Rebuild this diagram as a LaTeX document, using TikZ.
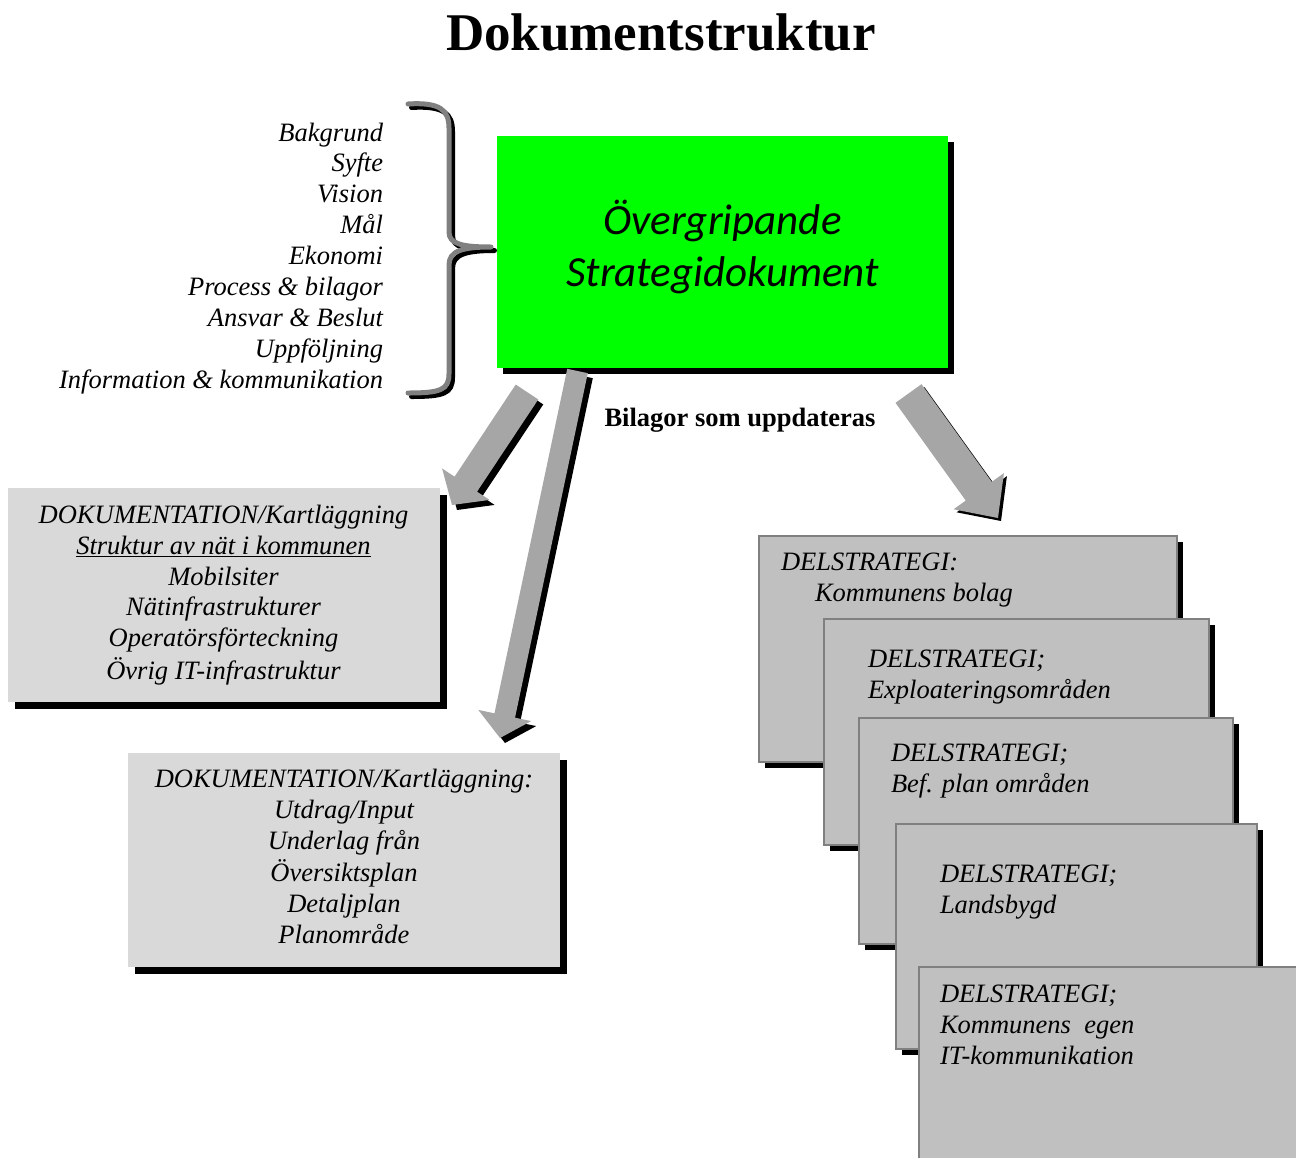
\documentclass[tikz,border=0pt]{standalone}
\usepackage{fontspec}
\setmainfont{Liberation Serif}
\newfontfamily\calfont{Carlito}
\usetikzlibrary{calc,shadows}
\definecolor{mgreen}{HTML}{00FF00}
\definecolor{docgray}{HTML}{D9D9D9}
\definecolor{delgray}{HTML}{C0C0C0}
\definecolor{bordergray}{HTML}{808080}
\definecolor{arrowgray}{HTML}{A6A6A6}
\newcommand\blockarrow[7]{% #1 name, #2 tail, #3 tip, #4 half shaft, #5 half head, #6 head length, #7 shadow
  \coordinate (#1-h) at ($(#3)!#6!(#2)$);
  \fill[black, transform canvas={shift={(#7,#7)}}]
    ($(#2)!#4!90:(#3)$) -- ($(#1-h)!#4!90:(#3)$) -- ($(#1-h)!#5!90:(#3)$) -- (#3)
    -- ($(#1-h)!#5!-90:(#3)$) -- ($(#1-h)!#4!-90:(#3)$) -- ($(#2)!#4!-90:(#3)$) -- cycle;
  \fill[arrowgray]
    ($(#2)!#4!90:(#3)$) -- ($(#1-h)!#4!90:(#3)$) -- ($(#1-h)!#5!90:(#3)$) -- (#3)
    -- ($(#1-h)!#5!-90:(#3)$) -- ($(#1-h)!#4!-90:(#3)$) -- ($(#2)!#4!-90:(#3)$) -- cycle;
}
\tikzset{
  every node/.style={inner sep=0pt, outer sep=0pt},
  txt/.style={font=\fontsize{26.5}{30.9}\selectfont\itshape},
  shadowed/.style={drop shadow={opacity=1, fill=black, shadow xshift=#1, shadow yshift=-#1}},
  mainbox/.style={fill=mgreen, shadowed=6pt},
  docbox/.style={fill=docgray, shadowed=7pt, txt, align=center, minimum width=432pt, minimum height=214pt},
  delbox/.style={fill=delgray, draw=bordergray, line width=2pt},
  bracepath/.style={line width=5pt, line cap=round, line join=round},
}
\begin{document}
\begin{tikzpicture}[x=1pt,y=-1pt]
\useasboundingbox (0,0) rectangle (1296,1157);
\clip (0,0) rectangle (1296,1157);

% title
\node[font=\fontsize{53}{60}\selectfont\bfseries] (title) at (661,32) {Dokumentstruktur};

% main box
\node[mainbox, minimum width=451pt, minimum height=232pt] (main) at (722.5,252) {};
\node[font=\fontsize{43}{52}\selectfont\calfont\itshape, align=center] (maintext) at (722.5,250)
  {\strut Övergripande\\\strut Strategidokument};

% block arrows
\coordinate (a1t) at (527,392);
\coordinate (a1p) at (452,505);
\coordinate (a2t) at (577.5,371);
\coordinate (a2p) at (500,738);
\coordinate (a3t) at (908.5,393.5);
\coordinate (a3p) at (998,518);
\blockarrow{a1}{a1t}{a1p}{13.5pt}{28.5pt}{25pt}{5}
\blockarrow{a2}{a2t}{a2p}{10.5pt}{27pt}{23pt}{5}
\blockarrow{a3}{a3t}{a3p}{16pt}{31pt}{33pt}{3}

% brace
\foreach \off/\col in {3.5/black, 0/bordergray}{
  \draw[bracepath, draw=\col, shift={(\off,\off)}]
    (408,104) .. controls (440,102) and (449,110) .. (449,128) -- (449,232)
    .. controls (449,244) and (462,247) .. (491,247)
    .. controls (462,247) and (449,251) .. (449,265) -- (449,374)
    .. controls (449,390) and (440,393) .. (408,393);
}

% list
\node[txt, align=right, anchor=east] (list) at (383,258.5)
  {\strut Bakgrund\\\strut Syfte\\\strut Vision\\\strut Mål\\\strut Ekonomi\\\strut Process \& bilagor\\\strut Ansvar \& Beslut\\\strut Uppföljning\\\strut Information \& kommunikation};

\node[font=\fontsize{26.5}{30.9}\selectfont\bfseries] (bilagor) at (740,420) {Bilagor som uppdateras};

% documentation boxes
\node[docbox] (doc1) at (223.5,595)
  {\strut DOKUMENTATION/Kartläggning\\\strut\underline{Struktur av nät i kommunen}\\\strut Mobilsiter\\\strut Nätinfrastrukturer\\\strut Operatörsförteckning\\\strut Övrig IT-infrastruktur};
\node[docbox] (doc2) at (344,859.5)
  {\strut DOKUMENTATION/Kartläggning:\\\strut Utdrag/Input\\\strut Underlag från\\\strut Översiktsplan\\\strut Detaljplan\\\strut Planområde};

% delstrategi boxes
\node[delbox, shadowed=6pt, minimum width=418pt, minimum height=226pt] (dA) at (968,649) {};
\node[txt, align=left, anchor=west] (tA) at (781,579.5) {\strut DELSTRATEGI:\\\strut\hspace*{34pt}Kommunens bolag};
\node[delbox, shadowed=6pt, minimum width=385pt, minimum height=226pt] (dB) at (1016.5,732) {};
\node[txt, align=left, anchor=west] (tB) at (868,676.5) {\strut DELSTRATEGI;\\\strut Exploateringsområden};
\node[delbox, shadowed=6pt, minimum width=374pt, minimum height=226pt] (dC) at (1046,831) {};
\node[txt, align=left, anchor=west] (tC) at (891,771) {\strut DELSTRATEGI;\\\strut Bef. plan områden};
\node[delbox, shadowed=6pt, minimum width=361pt, minimum height=225pt] (dD) at (1076.5,936.5) {};
\node[txt, align=left, anchor=west] (tD) at (940,891.5) {\strut DELSTRATEGI;\\\strut Landsbygd};
\node[delbox, minimum width=391pt, minimum height=203pt] (dE) at (1114.5,1068.5) {};
\node[txt, align=left, anchor=west] (tE) at (940,1027) {\strut DELSTRATEGI;\\\strut Kommunens~ egen\\\strut IT-kommunikation};
\end{tikzpicture}
\end{document}
